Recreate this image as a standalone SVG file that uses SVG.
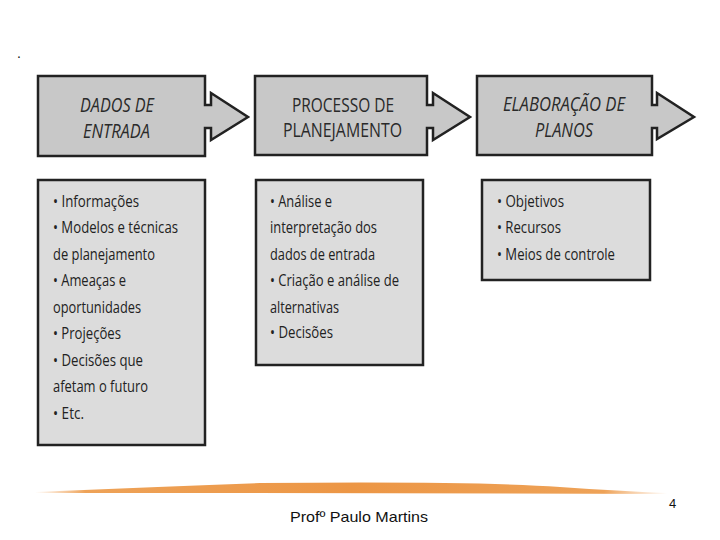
<svg xmlns="http://www.w3.org/2000/svg" width="720" height="540" viewBox="0 0 720 540">
<defs>
<style>
.head{fill:#c8c8c8;stroke:#222;stroke-width:2.5;stroke-linejoin:miter}
.list{fill:#dcdcdc;stroke:#222;stroke-width:2.5}
.ht{font-family:"Open Sans","Noto Sans",sans-serif;font-size:20px;fill:#2a2a2a}
.it{font-style:italic}
.lt{font-family:"Open Sans","Noto Sans",sans-serif;font-size:17px;fill:#222}
.ft{font-family:"Liberation Sans",Arial,sans-serif;fill:#111}
</style>
<linearGradient id="sw" x1="0" y1="0" x2="1" y2="0">
<stop offset="0" stop-color="#f0a055" stop-opacity="0"/>
<stop offset="0.08" stop-color="#ec9845" stop-opacity="0.9"/>
<stop offset="0.5" stop-color="#ec9645"/>
<stop offset="0.9" stop-color="#ec9845" stop-opacity="0.9"/>
<stop offset="1" stop-color="#f0a055" stop-opacity="0"/>
</linearGradient>
</defs>
<rect width="720" height="540" fill="#fff"/>
<text class="ft" x="17" y="58" font-size="14">.</text>

<g id="connectors"></g>

<g id="node-dados">
<path class="head" d="M38,76 H205 V105 H211 V93 L248,117 L211,140 V128 H205 V156 H38 Z"/>
<text class="ht it" x="80" y="112" textLength="74" lengthAdjust="spacingAndGlyphs">DADOS DE</text>
<text class="ht it" x="83" y="138" textLength="67" lengthAdjust="spacingAndGlyphs">ENTRADA</text>
</g>
<g id="node-processo">
<path class="head" d="M255,76 H427 V105 H433 V93 L470,117 L433,140 V128 H427 V155 H255 Z"/>
<text class="ht" x="292" y="112" textLength="102" lengthAdjust="spacingAndGlyphs">PROCESSO DE</text>
<text class="ht" x="283" y="137" textLength="119" lengthAdjust="spacingAndGlyphs">PLANEJAMENTO</text>
</g>
<g id="node-elaboracao">
<path class="head" d="M477,76 H652 V105 H657 V93 L694,117 L657,139 V128 H652 V155 H477 Z"/>
<text class="ht it" x="503" y="111" textLength="122" lengthAdjust="spacingAndGlyphs">ELABORAÇÃO DE</text>
<text class="ht it" x="535" y="137" textLength="58" lengthAdjust="spacingAndGlyphs">PLANOS</text>
</g>

<g id="list-dados">
<rect class="list" x="38" y="180" width="167" height="265"/>
<text class="lt" x="53" y="207" textLength="86" lengthAdjust="spacingAndGlyphs">• Informações</text>
<text class="lt" x="53" y="233" textLength="125" lengthAdjust="spacingAndGlyphs">• Modelos e técnicas</text>
<text class="lt" x="53" y="260" textLength="102" lengthAdjust="spacingAndGlyphs">de planejamento</text>
<text class="lt" x="53" y="286" textLength="73" lengthAdjust="spacingAndGlyphs">• Ameaças e</text>
<text class="lt" x="53" y="313" textLength="88" lengthAdjust="spacingAndGlyphs">oportunidades</text>
<text class="lt" x="53" y="339" textLength="68" lengthAdjust="spacingAndGlyphs">• Projeções</text>
<text class="lt" x="53" y="366" textLength="90" lengthAdjust="spacingAndGlyphs">• Decisões que</text>
<text class="lt" x="53" y="392" textLength="95" lengthAdjust="spacingAndGlyphs">afetam o futuro</text>
<text class="lt" x="53" y="419" textLength="31" lengthAdjust="spacingAndGlyphs">• Etc.</text>
</g>
<g id="list-processo">
<rect class="list" x="256" y="180" width="167" height="185"/>
<text class="lt" x="270" y="207" textLength="62" lengthAdjust="spacingAndGlyphs">• Análise e</text>
<text class="lt" x="270" y="233" textLength="107" lengthAdjust="spacingAndGlyphs">interpretação dos</text>
<text class="lt" x="270" y="260" textLength="105" lengthAdjust="spacingAndGlyphs">dados de entrada</text>
<text class="lt" x="270" y="286" textLength="129" lengthAdjust="spacingAndGlyphs">• Criação e análise de</text>
<text class="lt" x="270" y="313" textLength="69" lengthAdjust="spacingAndGlyphs">alternativas</text>
<text class="lt" x="270" y="338" textLength="63" lengthAdjust="spacingAndGlyphs">• Decisões</text>
</g>
<g id="list-elaboracao">
<rect class="list" x="482" y="180" width="168" height="100"/>
<text class="lt" x="497" y="207" textLength="67" lengthAdjust="spacingAndGlyphs">• Objetivos</text>
<text class="lt" x="497" y="233" textLength="64" lengthAdjust="spacingAndGlyphs">• Recursos</text>
<text class="lt" x="497" y="260" textLength="118" lengthAdjust="spacingAndGlyphs">• Meios de controle</text>
</g>

<path d="M35,492 Q150,487 260,483 Q480,481 560,487 Q620,491 667,493 L667,494 Q400,493 35,493 Z" fill="url(#sw)"/>
<text class="ft" x="290" y="522" font-size="15" textLength="138" lengthAdjust="spacingAndGlyphs">Profº Paulo Martins</text>
<text class="ft" x="669" y="508" font-size="13">4</text>
</svg>
